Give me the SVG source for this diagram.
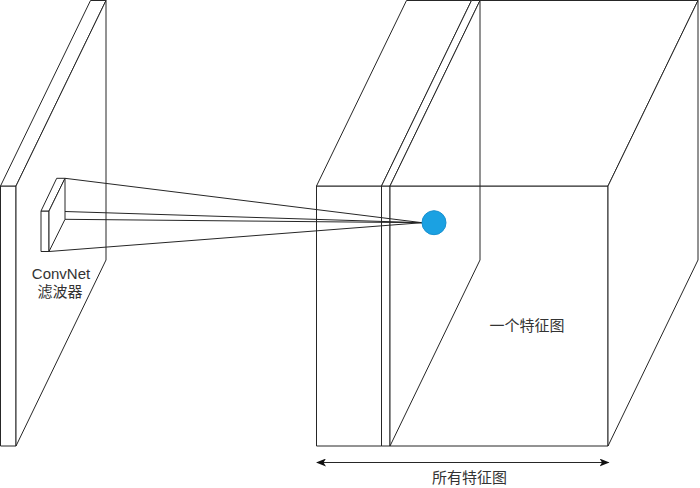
<svg xmlns="http://www.w3.org/2000/svg" width="700" height="488" viewBox="0 0 700 488">
<defs>
<style>
.f{fill:#ffffff;stroke:#262626;stroke-width:1;stroke-linejoin:round}
.e{fill:none;stroke:#262626;stroke-width:1}
.t{font-family:"Liberation Sans","Noto Sans CJK SC",sans-serif;font-size:15px;fill:#333333;text-anchor:middle}
</style>
<marker id="ah" viewBox="0 0 10 8" refX="9" refY="4" markerWidth="10" markerHeight="8" markerUnits="userSpaceOnUse" orient="auto-start-reverse">
<path d="M0,0 L10,4 L0,8 L2.5,4 Z" fill="#111111"/>
</marker>
</defs>
<rect width="700" height="488" fill="#ffffff"/>

<g id="input-slab">
<rect class="f" x="0.5" y="186" width="15.5" height="260"/>
<polygon class="f" points="0.5,186 90.5,0.5 106,0.5 16,186"/>
<polygon class="f" points="16,186 106,0.5 106,260 16,446"/>
</g>

<g id="feature-box-1">
<rect class="f" x="316.5" y="186" width="65" height="260"/>
<polygon class="f" points="316.5,186 406.5,0.5 471.5,0.5 381.5,186"/>
</g>

<g id="feature-slab">
<rect class="f" x="381.5" y="186" width="8.5" height="260"/>
<polygon class="f" points="381.5,186 471.5,0.5 480,0.5 390,186"/>
</g>

<g id="feature-map">
<rect class="f" x="390" y="186" width="218" height="260"/>
<polygon class="f" points="390,186 480,0.5 698,0.5 608,186"/>
<polygon class="f" points="608,186 698,0.5 698,260 608,446"/>
<polyline class="e" points="480,0.5 480,260 390,446"/>
</g>

<g id="connectors">
<line class="e" x1="65" y1="178.3" x2="422" y2="222.7"/>
<line class="e" x1="49" y1="211" x2="422" y2="222.7"/>
<line class="e" x1="65" y1="219.3" x2="422" y2="222.7"/>
<line class="e" x1="49" y1="251.5" x2="422" y2="222.7"/>
<line class="e" x1="317" y1="462.5" x2="608.5" y2="462.5" stroke="#111111" marker-start="url(#ah)" marker-end="url(#ah)"/>
</g>

<g id="filter">
<rect class="f" x="41" y="211" width="8" height="40.5"/>
<polygon class="f" points="41,211 56.7,178.3 65,178.3 49,211"/>
<polygon class="f" points="49,211 65,178.3 65,219.3 49,251.5"/>
</g>

<g id="dot">
<circle cx="434" cy="222.7" r="12" fill="#1ba1e2" stroke="#1890d0" stroke-width="1"/>
</g>

<g id="labels">
<text class="t" x="61" y="278.5">ConvNet</text>
<text class="t" x="60" y="296.5">滤波器</text>
<text class="t" x="527" y="330.5">一个特征图</text>
<text class="t" x="469.5" y="483">所有特征图</text>
</g>
</svg>
